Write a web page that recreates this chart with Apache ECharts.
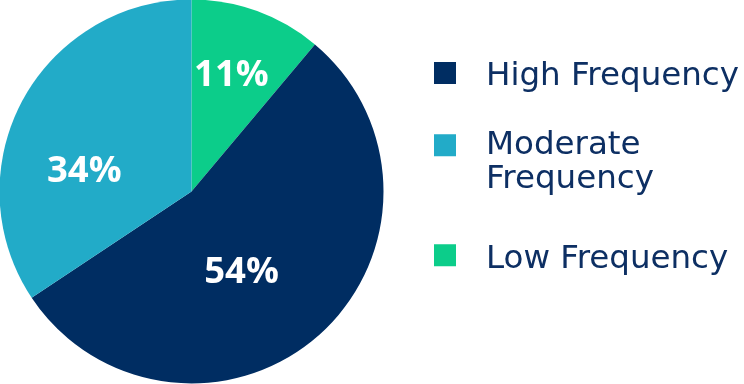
<!DOCTYPE html>
<html>
<head>
<meta charset="utf-8">
<script src="https://cdn.jsdelivr.net/npm/echarts@6/dist/echarts.min.js"></script>
<style>
html,body{margin:0;padding:0;background:#fff;}
#chart{width:744px;height:384px;}
</style>
</head>
<body>
<div id="chart"></div>
<script>
// Data (in clockwise order from 12 o'clock)
const categories = ['Low Frequency', 'High Frequency', 'Moderate Frequency'];
const values = [11, 54, 34];
const colors = ['#0ccd8a', '#002d62', '#22abc8'];
const legendOrder = ['High Frequency', 'Moderate Frequency', 'Low Frequency'];
const legendTexts = {'High Frequency': 'High Frequency', 'Moderate Frequency': 'Moderate\nFrequency', 'Low Frequency': 'Low Frequency'};
const labelOffsets = [[6, -23], [-16, 7], [-20, 27]];

const chart = echarts.init(document.getElementById('chart'), null, {renderer: 'canvas'});
const LABEL_FONT = '"Open Sans", sans-serif';
const LEGEND_FONT = '"DejaVu Sans", sans-serif';

const legendTops = [60, 128.3, 242.3];
const legends = legendOrder.map((name, i) => {
  const twoLine = legendTexts[name].indexOf('\n') >= 0;
  const h = twoLine ? 56 : 30;
  return {
    orient: 'vertical',
    left: 434,
    top: legendTops[i],
    padding: 0,
    // square on top, an invisible speck sets the item height so the text sits right
    icon: 'path://M0,0h22v22h-22zM0,' + (h - 0.01) + 'h0.01v0.01h-0.01z',
    itemWidth: 22,
    itemHeight: h,
    selectedMode: false,
    data: [name],
    formatter: n => legendTexts[n],
    textStyle: {
      color: '#0d2f63',
      fontFamily: LEGEND_FONT,
      fontSize: 32.5,
      lineHeight: 34,
      padding: [0, 0, 0, 25]
    }
  };
});

chart.setOption({
  animation: false,
  legend: legends,
  series: [{
    type: 'pie',
    center: [191.5, 191.5],
    radius: 192,
    startAngle: 90,
    clockwise: true,
    avoidLabelOverlap: false,
    label: {
      show: true,
      position: 'inside',
      formatter: '{c}%',
      color: '#ffffff',
      fontFamily: LABEL_FONT,
      fontWeight: 'bold',
      fontSize: 36.5
    },
    labelLine: {show: false},
    itemStyle: {borderWidth: 0},
    emphasis: {disabled: true},
    data: categories.map((c, i) => ({
      name: c,
      value: values[i],
      itemStyle: {color: colors[i]},
      label: {offset: labelOffsets[i]}
    }))
  }]
});
</script>
</body>
</html>
